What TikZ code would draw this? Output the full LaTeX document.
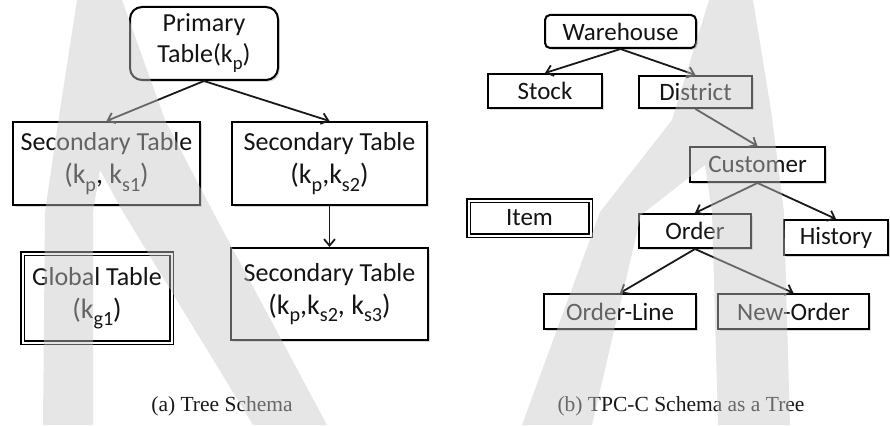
\documentclass[tikz,border=0pt]{standalone}
\usepackage{fontspec}
\setmainfont{Carlito}
\newfontfamily\capfont{Liberation Serif}
\usetikzlibrary{arrows.meta,shadows}
\newcommand\keylinefont{\fontsize{28}{30}\selectfont}
% lowered, reduced index letters such as k_p
\newcommand\ix[1]{\raisebox{-0.27em}{\scalebox{0.72}{#1}}}

\tikzset{
  tbl/.style={draw=black, line width=2pt, fill=white, inner sep=0pt,
    align=center, text=black!92,
    font=\fontsize{25}{30}\selectfont,
    drop shadow={shadow xshift=1.8pt, shadow yshift=-1.8pt, opacity=0.3}},
  bigtbl/.style={tbl, font=\fontsize{26}{31}\selectfont},
  dbl/.style={double=white, double distance=2pt, line width=1.3pt},
  link/.style={line width=1.8pt, draw=black!90,
    -{Straight Barb[length=6.5pt,width=11pt,line width=1.8pt]}},
  mark wm/.style={fill=black!22, fill opacity=0.45, draw=none},
  capt/.style={font=\capfont\fontsize{21.5}{25}\selectfont, text=black!90, anchor=base}
}

\begin{document}
\begin{tikzpicture}[x=1pt, y=-1pt]
\useasboundingbox (0,0) rectangle (890,425);

% ---------- (a) tree schema ----------
\node[bigtbl, rounded corners=12pt, minimum width=148pt, minimum height=73pt] (prim) at (204,43.5)
  {Primary\\Table(k\ix{p})};
\node[bigtbl, minimum width=187pt, minimum height=83pt] (sa) at (106.5,163.5)
  {Secondary Table\\[2pt]{\keylinefont (k\ix{p}, k\ix{s1})}};
\node[bigtbl, minimum width=195pt, minimum height=83pt] (sb) at (329.5,163.5)
  {Secondary Table\\[2pt]{\keylinefont (k\ix{p},k\ix{s2})}};
\node[bigtbl, minimum width=197pt, minimum height=92pt] (sc) at (329.5,294)
  {Secondary Table\\[2pt]{\keylinefont (k\ix{p},k\ix{s2}, k\ix{s3})}};
\node[bigtbl, dbl, minimum width=149pt, minimum height=89pt] (glob) at (97,298)
  {Global Table\\[2pt]{\keylinefont (k\ix{g1})}};

\draw[link] (prim.south) -- (sa.north);
\draw[link] (prim.south) -- (sb.north);
\draw[link] (sb.south) -- (sc.north);

\node[capt] (capa) at (222,411) {(a) Tree Schema};

% ---------- (b) TPC-C schema ----------
\node[tbl, rounded corners=5pt, minimum width=151pt, minimum height=33pt] (wh) at (620.5,31.5) {Warehouse};
\node[tbl, minimum width=114pt, minimum height=34pt] (stock) at (545,91) {Stock};
\node[tbl, minimum width=113pt, minimum height=32pt] (dist) at (695.5,92) {District};
\node[tbl, minimum width=135pt, minimum height=35pt] (cust) at (757.5,164.5) {Customer};
\node[tbl, dbl, minimum width=122pt, minimum height=35pt] (item) at (529.5,218) {Item};
\node[tbl, minimum width=112pt, minimum height=34pt] (order) at (695,231) {Order};
\node[tbl, minimum width=104pt, minimum height=35pt] (hist) at (836,237.5) {History};
\node[tbl, minimum width=152pt, minimum height=35pt] (oline) at (620,311.5) {Order-Line};
\node[tbl, minimum width=151pt, minimum height=35pt] (norder) at (793.5,311.5) {New-Order};

\draw[link] (wh.south) -- (stock.north);
\draw[link] (wh.south) -- (dist.north);
\draw[link] (dist.south) -- (cust.north);
\draw[link] (cust.south) -- (order.north);
\draw[link] (cust.south) -- (hist.north);
\draw[link] (order.south) -- (oline.north);
\draw[link] (order.south) -- (norder.north);

\node[capt] (capb) at (681,411) {(b) TPC-C Schema as a Tree};

% ---------- translucent background mark ----------
\fill[mark wm] (77,0) -- (122,0) -- (165,120) -- (213,212) -- (327,425) -- (253,425)
  -- (123,212) -- (100,170) -- (93,212) -- (93,425) -- (43,425) -- (45,212) -- (60,110) -- cycle;
\fill[mark wm] (709,0) -- (753,0) -- (771,110) -- (784,212) -- (790,425) -- (718,425)
  -- (712,212) -- (705,165) -- (641,215) -- (592,425) -- (522,425) -- (600,212) -- (672,120) -- cycle;
\end{tikzpicture}
\end{document}
